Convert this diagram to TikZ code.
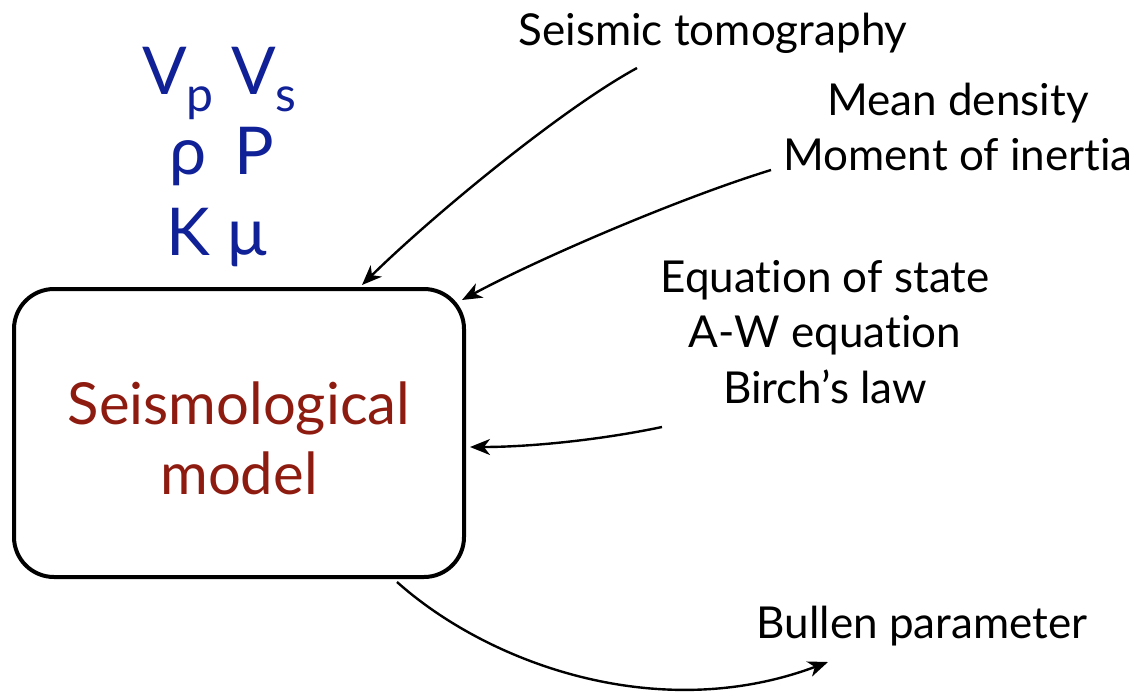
\documentclass[tikz,border=0pt]{standalone}
\usepackage{fontspec}
\setmainfont[Ligatures=NoCommon]{Lato}
\usetikzlibrary{arrows.meta}
\definecolor{modelred}{RGB}{142,27,16}
\definecolor{symblue}{RGB}{16,32,150}
\tikzset{
  modelbox/.style={draw, line width=4pt, rounded corners=40pt, minimum width=450pt, minimum height=288pt, inner sep=0pt},
  lbl/.style={font=\fontsize{44}{55.5}\selectfont, align=center, inner sep=0pt},
  sym/.style={font=\fontsize{66}{66}\selectfont, text=symblue, inner sep=0pt, anchor=base},
  conn/.style={line width=2.4pt, -{Stealth[length=20pt,width=16pt,inset=6pt]}},
}
\newcommand{\sbs}[1]{\raisebox{-0.26em}{\fontsize{48}{48}\selectfont #1}}
\begin{document}
\begin{tikzpicture}[x=1pt,y=-1pt]
\useasboundingbox (0,0) rectangle (1143,691);
\node[modelbox] (m) at (239,433) {};
\node[font=\fontsize{58}{70}\selectfont, text=modelred, align=center] (mt) at (239,438) {Seismological\\model};
% symbols
\node[sym] (vp) at (178,94) {V\sbs{p}};
\node[sym] (vs) at (264,94) {V\sbs{s}};
\node[sym] (rho) at (188,174) {ρ};
\node[sym] (pp) at (254,174) {P};
\node[sym] (kk) at (188,255) {K};
\node[sym] (mu) at (247,255) {μ};
% labels
\node[lbl] (t1) at (713,33) {Seismic tomography};
\node[lbl] (t2) at (958,127) {Mean density\\Moment of inertia};
\node[lbl] (t3) at (825,332) {Equation of state\\A-W equation\\Birch’s law};
\node[lbl] (t4) at (922,626) {Bullen parameter};
% connector ends
\coordinate (s1) at (637,68);
\coordinate (e1) at (362,285);
\coordinate (s2) at (771,170);
\coordinate (e2) at (462,300);
\coordinate (s3) at (662,427);
\coordinate (e3) at (470,447);
\coordinate (s4) at (397,582);
\coordinate (e4) at (828,662);
\draw[conn] (s1) .. controls (560,110) and (430,218) .. (e1);
\draw[conn] (s2) .. controls (680,198) and (540,258) .. (e2);
\draw[conn] (s3) .. controls (600,440) and (530,447) .. (e3);
\draw[conn] (s4) .. controls (490,665) and (660,725) .. (e4);
\end{tikzpicture}
\end{document}
